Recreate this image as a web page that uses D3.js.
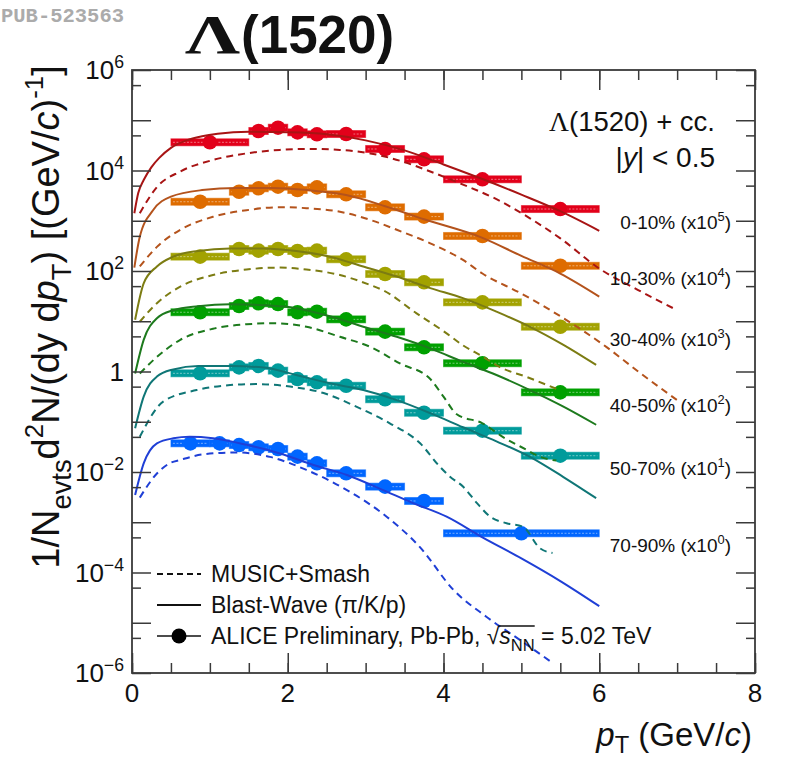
<!DOCTYPE html>
<html><head><meta charset="utf-8">
<script src="https://cdn.jsdelivr.net/npm/d3@7"></script>
<style>body{margin:0;background:#fff}svg text{fill:#111}</style>
</head><body><svg id="c" width="789" height="764" font-family="Liberation Sans, Arial, sans-serif"></svg>
<script>
// ---------------- data ----------------
const centralities = ["0-10%", "10-30%", "30-40%", "40-50%", "50-70%", "70-90%"];
const scaleExponents = ["5", "4", "3", "2", "1", "0"];

const bins_0_10 = [[0.5,1.5],[1.5,1.75],[1.75,2.0],[2.0,2.25],[2.25,2.5],[2.5,3.0],[3.0,3.5],[3.5,4.0],[4.0,5.0],[5.0,6.0]];
const bins_mid = [[0.5,1.25],[1.25,1.5],[1.5,1.75],[1.75,2.0],[2.0,2.25],[2.25,2.5],[2.5,3.0],[3.0,3.5],[3.5,4.0],[4.0,5.0],[5.0,6.0]];
const bins_70_90 = [[0.5,1.0],[1.0,1.25],[1.25,1.5],[1.5,1.75],[1.75,2.0],[2.0,2.25],[2.25,2.5],[2.5,3.0],[3.0,3.5],[3.5,4.0],[4.0,6.0]];

// scaled yields as drawn
const yield_0_10  = [3.64e4,6.11e4,7.11e4,5.75e4,5.25e4,5.32e4,2.68e4,1.67e4,6.68e3,1.71e3];
const yield_10_30 = [2.39e3,3.78e3,4.42e3,4.76e3,4.09e3,4.62e3,3.36e3,1.85e3,1.21e3,4.98e2,1.27e2];
const yield_30_40 = [193,274,254,274,250,254,171,87.1,59.6,23.8,7.78];
const yield_40_50 = [15.1,20.1,22.8,22.0,15.1,15.5,10.9,6.21,3.03,1.46,0.385];
const yield_50_70 = [0.920,1.21,1.29,1.04,0.710,0.610,0.521,0.280,0.151,0.0664,0.0211];
const yield_70_90 = [0.0372,0.0372,0.0344,0.0310,0.0287,0.0202,0.0149,0.00942,0.00511,0.00265,6.03e-4];

// Blast-Wave curves
const bw_pt_0_10  = [0.03,0.08,0.15,0.25,0.35,0.5,0.7,0.9,1.1,1.5,2.0,2.5,3.0,3.5,4.0,4.5,5.0,5.5,6.0];
const bw_0_10     = [1.41e3,3.55e3,6.46e3,1.17e4,1.78e4,2.82e4,3.98e4,4.79e4,5.37e4,5.89e4,5.75e4,5.25e4,3.98e4,2.51e4,1.32e4,6.76e3,3.31e3,1.55e3,6.31e2];
const bw_pt_10_30 = [0.03,0.1,0.27,0.5,0.9,1.35,1.8,2.25,2.75,3.25,3.75,4.5,5.0,5.5,6.0];
const bw_10_30    = [117,479,1.62e3,3.02e3,4.07e3,4.47e3,4.47e3,4.07e3,3.24e3,1.95e3,1.07e3,457,200,89,31];
const bw_pt_gen   = [0.04,0.15,0.32,0.53,0.85,1.26,1.69,2.11,2.54,2.97,3.40,3.83,4.25,4.68,5.11,5.54,5.96];
const bw_30_40    = [10.7,56.9,123,193,251,282,282,251,193,123,77.6,45.7,28.8,15.5,7.76,3.39,1.35];
const bw_40_50    = [0.912,4.27,11.5,16.6,19.95,21.9,20.9,18.2,12.6,7.76,4.90,2.88,1.55,0.851,0.427,0.200,0.0871];
const bw_50_70    = [0.0741,0.316,0.794,1.10,1.29,1.29,1.20,0.851,0.582,0.427,0.269,0.148,0.0776,0.0407,0.0200,0.00794,0.00302];
const bw_pt_70_90 = [0.04,0.15,0.32,0.53,0.74,1.04,1.47,1.9,2.33,2.76,3.18,3.61,4.04,4.5,5.0,5.5,6.0];
const bw_70_90    = [0.00347,0.0148,0.0372,0.0468,0.0501,0.0468,0.0347,0.0234,0.0138,0.00871,0.00468,0.00240,0.00129,5.01e-4,1.91e-4,6.76e-5,2.14e-5];

// MUSIC+Smash curves
const mu_pt_0_10  = [0.1,0.32,0.62,1.04,1.47,1.9,2.24,2.67,3.06,3.45,3.83,4.25,4.68,5.11,5.5,6.0,6.5,7.0];
const mu_0_10     = [1.41e3,4.68e3,9.55e3,1.62e4,2.19e4,2.57e4,2.69e4,2.57e4,2.19e4,1.55e4,9.55e3,5.25e3,2.69e3,1.12e3,447,112,41.7,16.6];
const mu_pt_10_30 = [0.1,0.32,0.62,1.04,1.47,1.9,2.24,2.67,3.06,3.40,3.83,4.25,4.5,5.0,5.5,6.09,6.5,7.0];
const mu_10_30    = [123,302,661,1.20e3,1.62e3,1.86e3,1.78e3,1.51e3,1.04e3,661,355,166,89.1,35.5,12.6,3.09,1.0,0.269];
const mu_pt_30_40 = [0.1,0.32,0.62,1.04,1.47,1.9,2.24,2.67,3.06,3.22,3.65,4.04,4.25,4.5,4.72,5.07,5.49];
const mu_30_40    = [9.77,22.9,49.0,83.2,107,117,107,83.2,52.5,41.7,14.5,5.75,3.31,2.0,1.23,0.776,0.427];
const mu_pt_40_50 = [0.1,0.32,0.62,1.04,1.47,1.81,2.24,2.67,3.06,3.44,3.83,4.0,4.17,4.5,4.76,5.07,5.24,5.45];
const mu_40_50    = [0.912,1.95,4.27,7.08,8.71,9.12,7.76,4.90,3.09,1.45,0.708,0.316,0.141,0.0933,0.0501,0.0275,0.0200,0.0170];
const mu_pt_50_70 = [0.1,0.4,0.83,1.26,1.6,2.03,2.46,2.88,3.31,3.70,3.95,4.08,4.25,4.43,4.6,4.81,5.02,5.24,5.4];
const mu_50_70    = [0.0501,0.251,0.427,0.537,0.562,0.501,0.372,0.200,0.0933,0.0372,0.0129,0.00813,0.00513,0.00240,0.00129,9.55e-4,8.13e-4,3.02e-4,2.45e-4];
const mu_pt_70_90 = [0.1,0.32,0.49,0.62,0.91,1.34,1.77,2.24,2.76,3.27,3.7,4.13,4.55,4.98,5.41];
const mu_70_90    = [0.00309,0.00933,0.0151,0.0174,0.0224,0.0245,0.0200,0.0110,0.00437,0.00129,3.16e-4,4.47e-5,1.32e-5,4.57e-6,1.55e-6];

const markerColors = ["#e2001a","#de6c00","#a2a200","#00a000","#009b9b","#0066ff"];
const curveColors  = ["#a81414","#b4531c","#7c7c12","#1d7a1d","#0f7676","#1f3fd6"];

const xTicks = [0, 2, 4, 6, 8];
const yLabelExps = [6, 4, 2, 0, -2, -4, -6];
// ---------------------------------------

const series = [
  {bins: bins_0_10, y: yield_0_10, bwx: bw_pt_0_10, bw: bw_0_10, mux: mu_pt_0_10, mu: mu_0_10},
  {bins: bins_mid, y: yield_10_30, bwx: bw_pt_10_30, bw: bw_10_30, mux: mu_pt_10_30, mu: mu_10_30},
  {bins: bins_mid, y: yield_30_40, bwx: bw_pt_gen, bw: bw_30_40, mux: mu_pt_30_40, mu: mu_30_40},
  {bins: bins_mid, y: yield_40_50, bwx: bw_pt_gen, bw: bw_40_50, mux: mu_pt_40_50, mu: mu_40_50},
  {bins: bins_mid, y: yield_50_70, bwx: bw_pt_gen, bw: bw_50_70, mux: mu_pt_50_70, mu: mu_50_70},
  {bins: bins_70_90, y: yield_70_90, bwx: bw_pt_70_90, bw: bw_70_90, mux: mu_pt_70_90, mu: mu_70_90}
];

const svg = d3.select("#c");
const L = 132, R = 755, T = 70, B = 673;
const x = d3.scaleLinear().domain([0, 8]).range([L, R]);
const y = d3.scaleLog().domain([1e-6, 1e6]).range([B, T]);

function rich(textSel, segs, base, subShift) {
  let cur = 0;
  const sb = subShift === undefined ? 0.32 : subShift;
  segs.forEach(([t, ty]) => {
    let shift = 0, size = base, style = "normal";
    if (ty === "sub") { shift = base * sb; size = base * 0.72; }
    if (ty === "sup") { shift = -base * 0.42; size = base * 0.68; }
    if (ty === "i") { style = "italic"; }
    const ts = textSel.append("tspan").text(t).attr("font-size", size).attr("font-style", style);
    if (shift !== cur) { ts.attr("dy", shift - cur); cur = shift; }
  });
  return textSel;
}

// ---- data: boxes, markers ----
const gData = svg.append("g");
series.forEach((s, i) => {
  const g = gData.append("g");
  s.bins.forEach((b, j) => {
    const yy = y(s.y[j]);
    g.append("rect").attr("x", x(b[0])).attr("y", yy - 3.5).attr("width", x(b[1]) - x(b[0])).attr("height", 7)
      .attr("fill", markerColors[i]).attr("stroke", markerColors[i]).attr("stroke-opacity", 0.55).attr("stroke-width", 1);
    g.append("line").attr("x1", x(b[0]) + 2).attr("x2", x(b[1]) - 2).attr("y1", yy).attr("y2", yy)
      .attr("stroke", "#fff").attr("stroke-opacity", 0.45).attr("stroke-width", 1).attr("stroke-dasharray", "2,1.5");
  });
  s.bins.forEach((b, j) => {
    g.append("circle").attr("cx", x((b[0] + b[1]) / 2)).attr("cy", y(s.y[j])).attr("r", 7.3).attr("fill", markerColors[i]);
  });
});

// ---- curves ----
const line = d3.line().x(d => x(d[0])).y(d => y(d[1])).curve(d3.curveMonotoneX);
const gCurves = svg.append("g").attr("fill", "none");
series.forEach((s, i) => {
  gCurves.append("path").attr("d", line(s.mux.map((p, k) => [p, s.mu[k]])))
    .attr("stroke", curveColors[i]).attr("stroke-width", 2).attr("stroke-dasharray", "7,5");
  gCurves.append("path").attr("d", line(s.bwx.map((p, k) => [p, s.bw[k]])))
    .attr("stroke", curveColors[i]).attr("stroke-width", 2);
});

// ---- axes ----
const axisCol = "#3a3a3a";
const minorX = d3.range(0, 8.01, 0.5);
const yMajors = d3.range(-6, 7).map(e => Math.pow(10, e));
const yMinors = d3.range(-6, 6).map(e => 5 * Math.pow(10, e));
function styleAxis(g) {
  g.select(".domain").remove();
  g.selectAll("line").attr("stroke", axisCol).attr("stroke-width", 1.5);
  g.selectAll("text").remove();
}
svg.append("g").attr("transform", `translate(0,${B})`).call(d3.axisBottom(x).tickValues(minorX).tickSize(-10)).call(styleAxis);
svg.append("g").attr("transform", `translate(0,${B})`).call(d3.axisBottom(x).tickValues(xTicks).tickSize(-20)).call(styleAxis);
svg.append("g").attr("transform", `translate(0,${T})`).call(d3.axisTop(x).tickValues(minorX).tickSize(-10)).call(styleAxis);
svg.append("g").attr("transform", `translate(0,${T})`).call(d3.axisTop(x).tickValues(xTicks).tickSize(-20)).call(styleAxis);
svg.append("g").attr("transform", `translate(${L},0)`).call(d3.axisLeft(y).tickValues(yMajors).tickSize(-19)).call(styleAxis);
svg.append("g").attr("transform", `translate(${L},0)`).call(d3.axisLeft(y).tickValues(yMinors).tickSize(-9)).call(styleAxis);
svg.append("g").attr("transform", `translate(${R},0)`).call(d3.axisRight(y).tickValues(yMajors).tickSize(-19)).call(styleAxis);
svg.append("g").attr("transform", `translate(${R},0)`).call(d3.axisRight(y).tickValues(yMinors).tickSize(-9)).call(styleAxis);
svg.append("rect").attr("x", L).attr("y", T).attr("width", R - L).attr("height", B - T)
  .attr("fill", "none").attr("stroke", axisCol).attr("stroke-width", 1.8);

// tick labels
xTicks.forEach(v => {
  svg.append("text").attr("x", x(v)).attr("y", 702).attr("text-anchor", "middle").attr("font-size", 26).text(v);
});
yLabelExps.forEach(e => {
  const t = svg.append("text").attr("x", 124).attr("y", y(Math.pow(10, e)) + 9).attr("text-anchor", "end");
  if (e === 0) rich(t, [["1", "n"]], 26);
  else rich(t, [["10", "n"], [String(e).replace("-", "\u2212"), "sup"]], 26);
});

// axis titles
const xt = svg.append("text").attr("x", 752).attr("y", 746).attr("text-anchor", "end");
rich(xt, [["p", "i"], ["T", "sub"], [" (GeV/", "n"], ["c", "i"], [")", "n"]], 33, 0.22);

const yt = svg.append("text").attr("transform", "translate(59,317) rotate(-90)").attr("text-anchor", "middle");
rich(yt, [["1/N", "n"], ["evts", "sub"], ["d", "n"], ["2", "sup"], ["N/(dy d", "n"], ["p", "i"], ["T", "sub"],
  [") [(GeV/", "n"], ["c", "i"], [")", "n"], ["-1", "sup"], ["]", "n"]], 38);

// header texts
svg.append("text").attr("x", 1).attr("y", 22).style("font-family", "'Liberation Mono', 'DejaVu Sans Mono', monospace")
  .attr("font-weight", "bold").attr("font-size", 20).attr("textLength", 123).attr("lengthAdjust", "spacingAndGlyphs")
  .style("fill", "#ababab").text("PUB-523563");
svg.append("text").attr("x", 185).attr("y", 53).style("font-family", "'Liberation Serif', 'DejaVu Serif', serif").attr("font-weight", "bold")
  .attr("font-size", 54).attr("textLength", 55).attr("lengthAdjust", "spacingAndGlyphs").text("\u039B");
svg.append("text").attr("x", 241).attr("y", 53).attr("font-weight", "bold").attr("font-size", 53).text("(1520)");

// right labels
const lab1 = svg.append("text").attr("x", 715).attr("y", 131).attr("text-anchor", "end").attr("font-size", 27.5);
lab1.append("tspan").style("font-family", "'Liberation Serif', serif").text("\u039B");
lab1.append("tspan").text("(1520) + cc.");
const lab2 = svg.append("text").attr("x", 715).attr("y", 167).attr("text-anchor", "end").attr("font-size", 28);
rich(lab2, [["|", "n"], ["y", "i"], ["| < 0.5", "n"]], 28);

const centBase = [229, 285, 346, 412, 475, 552];
centralities.forEach((c, i) => {
  const t = svg.append("text").attr("x", 731).attr("y", centBase[i]).attr("text-anchor", "end");
  rich(t, [[c + " (x10", "n"], [scaleExponents[i], "sup"], [")", "n"]], 19);
});

// legend
const lg = svg.append("g");
lg.append("line").attr("x1", 157).attr("x2", 201).attr("y1", 574).attr("y2", 574).attr("stroke", "#111").attr("stroke-width", 1.8).attr("stroke-dasharray", "6,4");
lg.append("line").attr("x1", 157).attr("x2", 201).attr("y1", 605).attr("y2", 605).attr("stroke", "#111").attr("stroke-width", 2);
lg.append("line").attr("x1", 157).attr("x2", 201).attr("y1", 636).attr("y2", 636).attr("stroke", "#111").attr("stroke-width", 1.5);
lg.append("circle").attr("cx", 179).attr("cy", 636).attr("r", 7.5).attr("fill", "#000");
lg.append("text").attr("x", 211).attr("y", 582).attr("font-size", 23).text("MUSIC+Smash");
lg.append("text").attr("x", 211).attr("y", 613).attr("font-size", 23).text("Blast-Wave (\u03C0/K/p)");
const lt = lg.append("text").attr("x", 211).attr("y", 644);
rich(lt, [["ALICE Preliminary, Pb-Pb, \u221A", "n"], ["s", "i"], ["NN", "sub"], [" = 5.02 TeV", "n"]], 23);
// radical overline
const node = lt.node();
const full = node.textContent;
const iRad = full.indexOf("\u221A");
const iNN = full.indexOf("NN") + 1;
const p0 = node.getEndPositionOfChar(iRad), p1 = node.getEndPositionOfChar(iNN);
lg.append("line").attr("x1", p0.x - 1).attr("x2", p1.x).attr("y1", 644 - 18).attr("y2", 644 - 18).attr("stroke", "#111").attr("stroke-width", 1.3);
</script></body></html>
